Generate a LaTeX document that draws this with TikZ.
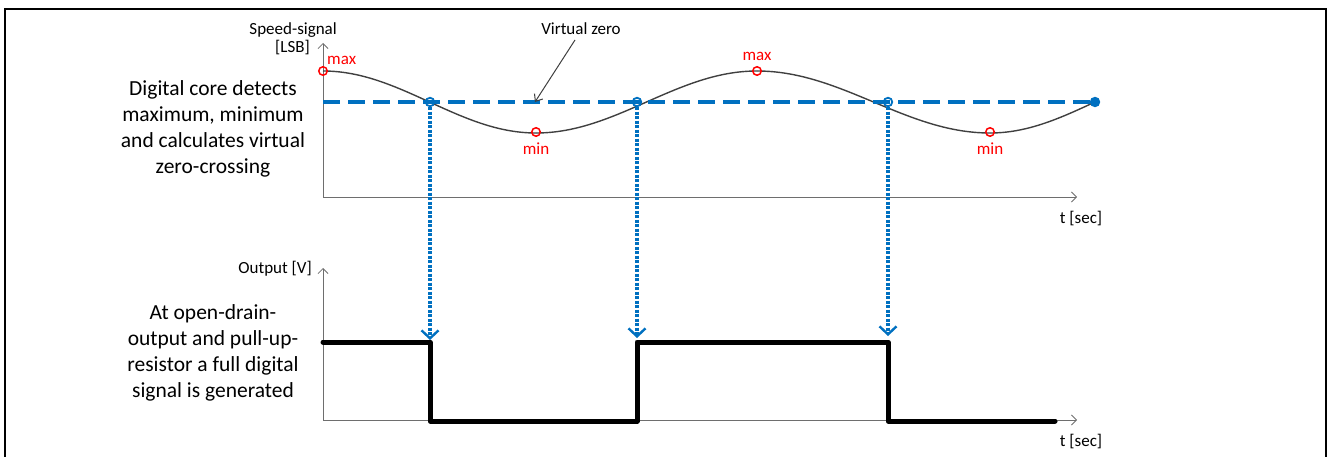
\documentclass[tikz,border=0pt]{standalone}
\usepackage{fontspec}
\setmainfont{Carlito}
\usetikzlibrary{arrows.meta}
\definecolor{sigblue}{RGB}{0,112,192}
\definecolor{curvegray}{RGB}{64,64,64}
\definecolor{axisgray}{RGB}{110,110,110}
\tikzset{
  frameline/.style={line width=1.3pt, black},
  axisline/.style={line width=0.9pt, axisgray, -{Straight Barb[length=5pt,width=10pt,line width=0.8pt]}},
  bigtext/.style={align=center, font=\fontsize{21.5}{26}\selectfont, inner sep=0pt},
  smalltext/.style={font=\fontsize{17}{18}\selectfont, inner sep=0pt},
  redtext/.style={smalltext, text=red},
  extremum/.style={circle, draw=red, line width=1.5pt, minimum size=8.5pt, inner sep=0pt},
  crossing/.style={circle, draw=sigblue, line width=1.8pt, minimum size=8.5pt, inner sep=0pt},
  vzero/.style={sigblue, line width=3.5pt, dash pattern=on 17pt off 8pt},
  dropline/.style={sigblue, line width=3.5pt, dash pattern=on 3pt off 1.5pt, -{Straight Barb[length=8pt,width=17pt,line width=2.4pt]}},
  sigcurve/.style={curvegray, line width=1.4pt},
  digsig/.style={black, line width=5pt, line cap=round, line join=round},
  pointer/.style={curvegray, line width=1pt, -{Straight Barb[length=6pt,width=10pt,line width=1pt]}}
}
\begin{document}
\begin{tikzpicture}[x=1pt,y=-1pt]
\useasboundingbox (0,0) rectangle (1330,457);
% frame (open at bottom)
\draw[frameline] (5,470) -- (5,9) -- (1326,9) -- (1326,470);

% ---------- upper chart ----------
\coordinate (uo) at (323,197);
\coordinate (uy) at (323,43);
\coordinate (ux) at (1077,197);
\draw[axisline] (uo) -- (uy);
\draw[axisline] (uo) -- (ux);
\node[smalltext, anchor=base east] (speedlbl) at (337,35) {Speed-signal};
\node[smalltext, anchor=base east] (lsblbl) at (310,53) {[LSB]};
\node[smalltext, anchor=base] (tlbl1) at (1081,223) {t [sec]};

% signal curve (cosine pieces between extrema)
\draw[sigcurve] plot[domain=323:536, samples=60] (\x,{102-31*cos((\x-323)/213*180)});
\draw[sigcurve] plot[domain=536:757, samples=60] (\x,{102+31*cos((\x-536)/221*180)});
\draw[sigcurve] plot[domain=757:990, samples=60] (\x,{102-31*cos((\x-757)/233*180)});
\draw[sigcurve] plot[domain=990:1095, samples=40] (\x,{102+31*cos((\x-990)/105*90)});

% virtual zero line
\coordinate (vzl) at (323,102);
\coordinate (vzr) at (1095,102);
\draw[vzero] (vzl) -- (vzr);

% extrema
\node[extremum] (max1) at (323,71) {};
\node[extremum] (min1) at (536,132) {};
\node[extremum] (max2) at (757,71) {};
\node[extremum] (min2) at (990,132) {};
\node[redtext, anchor=base west] (max1lbl) at (327,65) {max};
\node[redtext, anchor=base] (min1lbl) at (536,155) {min};
\node[redtext, anchor=base] (max2lbl) at (757,61) {max};
\node[redtext, anchor=base] (min2lbl) at (990,155) {min};

% crossings
\node[crossing] (c1) at (430,102) {};
\node[crossing] (c2) at (637,102) {};
\node[crossing] (c3) at (888,102) {};
\node[crossing, fill=sigblue] (c4) at (1095,102) {};

% virtual zero annotation
\node[smalltext, anchor=base] (vzlbl) at (581,35) {Virtual zero};
\coordinate (vzpt) at (535,102);
\draw[pointer] (575,40) -- (vzpt);

% ---------- lower chart ----------
\coordinate (lo) at (323,420);
\coordinate (ly) at (323,268);
\coordinate (lx) at (1077,420);
\draw[axisline] (lo) -- (ly);
\draw[axisline] (lo) -- (lx);
\node[smalltext, anchor=base east] (outlbl) at (312,273) {Output [V]};
\node[smalltext, anchor=base] (tlbl2) at (1081,446) {t [sec]};

% drop arrows
\coordinate (a1) at (430,340);
\coordinate (a2) at (637,338);
\coordinate (a3) at (888,336);
\draw[dropline] (c1.south) -- (a1);
\draw[dropline] (c2.south) -- (a2);
\draw[dropline] (c3.south) -- (a3);

% digital output
\draw[digsig] (323,342) -- (430,342) -- (430,421) -- (637,421) -- (637,342) -- (888,342) -- (888,421) -- (1055,421);

% explanatory texts
\node[bigtext] (txt1) at (213,129) {Digital core detects\\maximum, minimum\\and calculates virtual\\zero-crossing};
\node[bigtext] (txt2) at (213,353) {At open-drain-\\output and pull-up-\\resistor a full digital\\signal is generated};
\end{tikzpicture}
\end{document}
